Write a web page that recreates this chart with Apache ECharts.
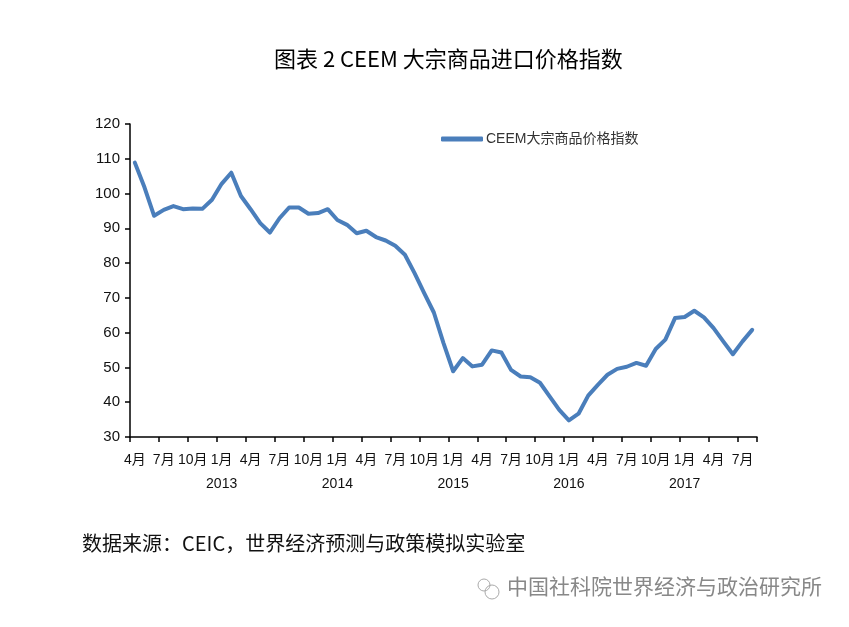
<!DOCTYPE html>
<html>
<head>
<meta charset="utf-8">
<script src="https://cdn.jsdelivr.net/npm/echarts@6/dist/echarts.min.js"></script>
<style>
html,body{margin:0;padding:0;background:#fff;}
#main{width:849px;height:627px;}
</style>
</head>
<body>
<div id="main"></div>
<script>
const categories = [
  '2012-04','2012-05','2012-06','2012-07','2012-08','2012-09','2012-10','2012-11','2012-12',
  '2013-01','2013-02','2013-03','2013-04','2013-05','2013-06','2013-07','2013-08','2013-09','2013-10','2013-11','2013-12',
  '2014-01','2014-02','2014-03','2014-04','2014-05','2014-06','2014-07','2014-08','2014-09','2014-10','2014-11','2014-12',
  '2015-01','2015-02','2015-03','2015-04','2015-05','2015-06','2015-07','2015-08','2015-09','2015-10','2015-11','2015-12',
  '2016-01','2016-02','2016-03','2016-04','2016-05','2016-06','2016-07','2016-08','2016-09','2016-10','2016-11','2016-12',
  '2017-01','2017-02','2017-03','2017-04','2017-05','2017-06','2017-07','2017-08'
];
const ceemIndex = [
  108.9, 101.8, 93.6, 95.3, 96.4, 95.5, 95.7, 95.6, 98.2,
  102.8, 106.0, 99.3, 95.5, 91.5, 88.8, 92.9, 96.0, 96.0, 94.2, 94.4, 95.5,
  92.4, 91.0, 88.6, 89.3, 87.5, 86.5, 85.0, 82.4, 77.1, 71.4, 65.8, 57.0,
  48.9, 52.7, 50.3, 50.8, 54.9, 54.3, 49.3, 47.4, 47.2, 45.6, 41.7, 37.8,
  34.8, 36.7, 41.9, 45.0, 47.9, 49.6, 50.2, 51.3, 50.5, 55.3, 58.0, 64.2,
  64.5, 66.3, 64.4, 61.3, 57.5, 53.8, 57.5, 60.8
];
const seriesName = 'CEEM大宗商品价格指数';
const titleText = '图表 2 CEEM 大宗商品进口价格指数';
const sourceText = '数据来源：CEIC，世界经济预测与政策模拟实验室';
const watermarkText = '中国社科院世界经济与政治研究所';

const chart = echarts.init(document.getElementById('main'));
chart.setOption({
  backgroundColor: '#fff',
  animation: false,
  title: {
    text: titleText,
    left: 269,
    top: 43,
    textStyle: { fontFamily: 'Noto Sans CJK SC', fontSize: 22, fontWeight: 'normal', color: '#000' }
  },
  legend: {
    data: [seriesName],
    left: 436,
    top: 127,
    icon: 'roundRect',
    itemWidth: 42,
    itemHeight: 5,
    itemGap: 4,
    textStyle: { fontFamily: 'Liberation Sans, Noto Sans CJK SC', fontSize: 14, color: '#333', padding: [0, 0, 0, -2] }
  },
  grid: { left: 130, right: 92, top: 124, bottom: 190, containLabel: false },
  xAxis: {
    type: 'category',
    data: categories,
    boundaryGap: true,
    axisLine: { lineStyle: { color: '#000', width: 1.5 } },
    axisTick: { show: true, interval: 2, length: 5, lineStyle: { color: '#000', width: 1.5 } },
    axisLabel: {
      interval: 2,
      margin: 11,
      color: '#111',
      fontFamily: 'Liberation Sans, Noto Sans CJK SC',
      fontSize: 14,
      lineHeight: 24,
      formatter: function (v) {
        const parts = v.split('-');
        const m = parseInt(parts[1], 10);
        return m === 1 ? m + '月\n' + parts[0] : m + '月';
      }
    },
    splitLine: { show: false }
  },
  yAxis: {
    type: 'value',
    min: 30,
    max: 120,
    interval: 10,
    axisLine: { show: true, lineStyle: { color: '#000', width: 1.5 } },
    axisTick: { show: true, length: 5, lineStyle: { color: '#000', width: 1.5 } },
    axisLabel: { margin: 10, color: '#111', fontFamily: 'Liberation Sans', fontSize: 15 },
    splitLine: { show: false }
  },
  series: [{
    name: seriesName,
    type: 'line',
    data: ceemIndex,
    showSymbol: false,
    symbol: 'none',
    lineStyle: { color: '#4a7ebb', width: 4, cap: 'round', join: 'round' },
    itemStyle: { color: '#4a7ebb' }
  }],
  graphic: [
    {
      type: 'text', left: 82, top: 533,
      style: { text: sourceText, fontFamily: 'Noto Sans CJK SC', fontSize: 20, fill: '#111' }
    },
    {
      type: 'text', left: 507, top: 576,
      style: { text: watermarkText, fontFamily: 'Noto Sans CJK SC', fontSize: 21, fill: '#888' }
    },
    {
      type: 'circle', shape: { cx: 492, cy: 592, r: 7 },
      style: { fill: 'none', stroke: '#aaa', lineWidth: 1 }
    },
    {
      type: 'circle', shape: { cx: 484, cy: 585, r: 6 },
      style: { fill: 'none', stroke: '#aaa', lineWidth: 1 }
    }
  ]
});
</script>
</body>
</html>
